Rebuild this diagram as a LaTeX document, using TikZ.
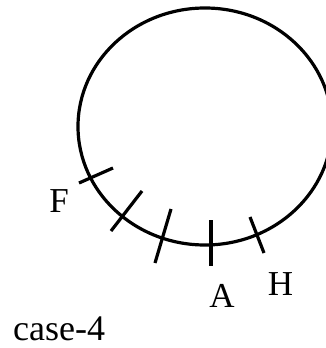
\documentclass[tikz,border=0pt]{standalone}
\usepackage{fontspec}
\setmainfont{Liberation Serif}
\begin{document}
\begin{tikzpicture}[x=1pt,y=-1pt,
  curve/.style={line width=3.2pt},
  tick/.style={line width=3.2pt},
  lbl/.style={inner sep=0pt,anchor=base,font=\fontsize{35}{40}\selectfont}]
\useasboundingbox (0,0) rectangle (325,348);
\draw[curve] (205,126.5) ellipse [x radius=127, y radius=118.5];
\draw[tick] (79,183) -- (113,168);
\draw[tick] (111,231) -- (142,191);
\draw[tick] (155,263) -- (171,209);
\draw[tick] (211,220) -- (211,266);
\draw[tick] (250,217) -- (264,253);
\node[lbl] (F) at (59,212) {F};
\node[lbl] (A) at (222,307) {A};
\node[lbl] (H) at (280.5,295) {H};
\node[lbl,anchor=base west,font=\fontsize{36}{40}\selectfont] (case) at (13,340) {case-4};
\end{tikzpicture}
\end{document}
